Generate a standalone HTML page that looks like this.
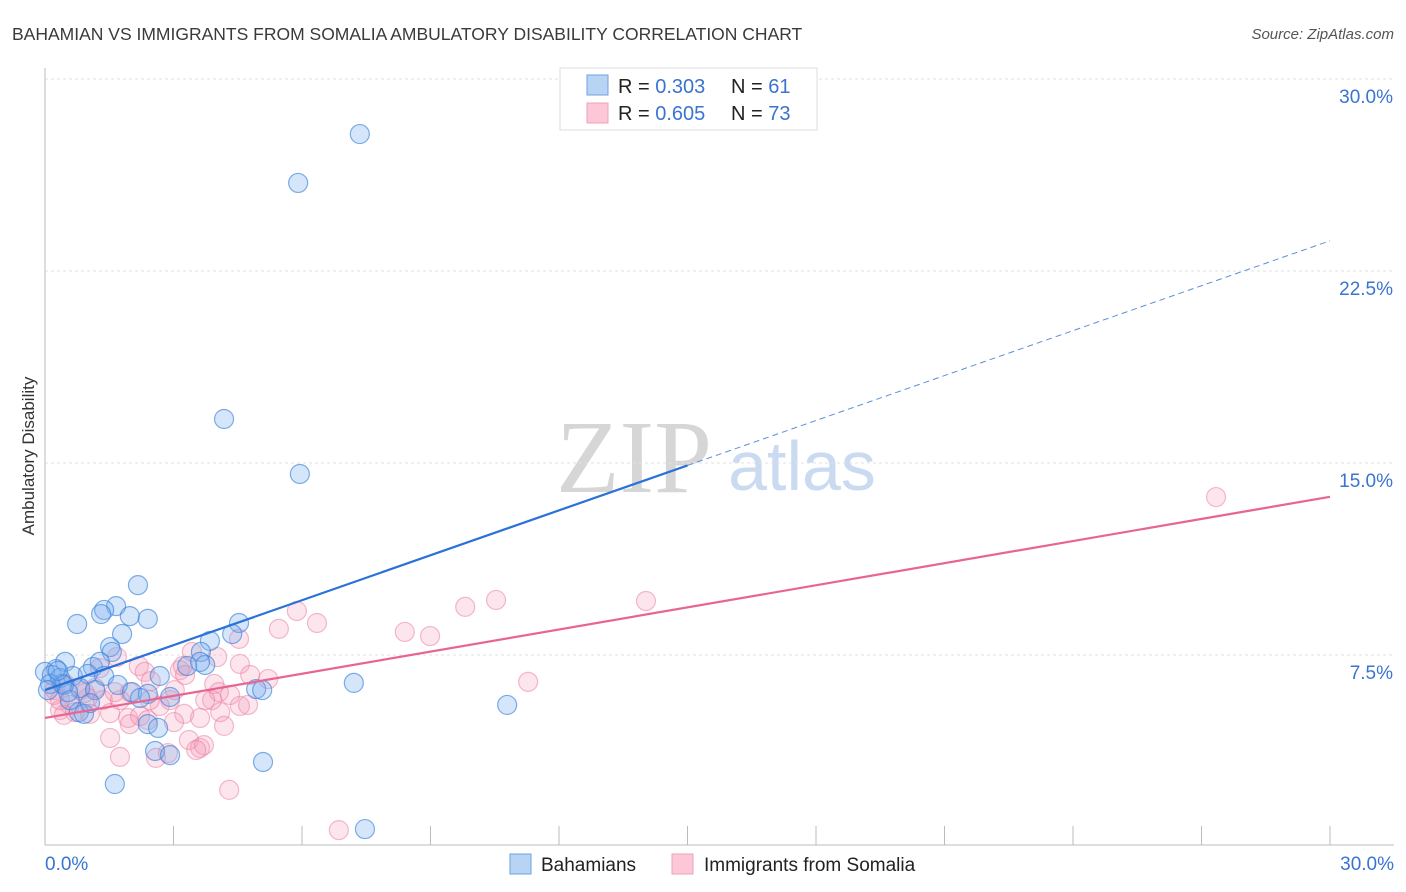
<!DOCTYPE html>
<html><head><meta charset="utf-8"><style>
body{margin:0;background:#fff;font-family:"Liberation Sans",sans-serif;}
svg{display:block}
</style></head><body>
<svg id="chart" width="1406" height="892" xmlns="http://www.w3.org/2000/svg">
<text x="12" y="40" font-size="17.5" fill="#3a3a3a">BAHAMIAN VS IMMIGRANTS FROM SOMALIA AMBULATORY DISABILITY CORRELATION CHART</text>
<text x="1394" y="39" font-size="15" fill="#555" text-anchor="end" font-style="italic">Source: ZipAtlas.com</text>
<text x="34" y="456" font-size="17" fill="#333" text-anchor="middle" transform="rotate(-90 34 456)">Ambulatory Disability</text>
<g>
<text x="634" y="492" font-size="104" fill="#d6d6d6" font-family="Liberation Serif,serif" text-anchor="middle">ZIP</text>
<text x="802" y="490" font-size="70" fill="#cadbf1" text-anchor="middle">atlas</text>
</g>
<g id="grid"></g>
<g id="axes"></g>
<g id="pts"></g>
<g id="lines"></g>
<g>
<rect x="560" y="68" width="257" height="62" fill="#fff" stroke="#ddd"/>
<rect x="587" y="75" width="21" height="20" fill="#b8d4f4" stroke="#6fa0e0"/>
<rect x="587" y="103" width="21" height="20" fill="#fcc8d8" stroke="#f0a0b8"/>
<text x="618" y="93" font-size="20" fill="#222">R = <tspan fill="#3a74d0">0.303</tspan></text>
<text x="731" y="93" font-size="20" fill="#222">N = <tspan fill="#3a74d0"> 61</tspan></text>
<text x="618" y="120" font-size="20" fill="#222">R = <tspan fill="#3a74d0">0.605</tspan></text>
<text x="731" y="120" font-size="20" fill="#222">N = <tspan fill="#3a74d0">73</tspan></text>
</g>
<g>
<rect x="510" y="854" width="21" height="20" fill="#b8d4f4" stroke="#6fa0e0"/>
<text x="541" y="871" font-size="19" fill="#222">Bahamians</text>
<text x="704" y="871" font-size="19" fill="#222">Immigrants from Somalia</text>
<rect x="672" y="854" width="21" height="20" fill="#fcc8d8" stroke="#f0a0b8"/>
</g>
</svg>
<script>
const yTicks=[7.5,15,22.5,30];
const yTickLabels=["7.5%","15.0%","22.5%","30.0%"];
const xEndLabels=["0.0%","30.0%"];
const blueX=[7.35,5.91,4.18,5.95,2.17,1.66,1.38,1.31,1.98,2.40,0.75,1.80,4.53,4.37,3.85,1.52,1.56,3.64,0.47,1.12,1.28,3.74,3.32,0.26,0.0,0.16,0.35,0.65,1.00,2.68,1.38,1.70,2.03,2.40,0.40,0.82,0.12,1.17,2.92,4.93,7.21,5.07,10.79,0.79,0.91,2.40,2.64,2.57,2.92,5.09,1.63,7.47,0.44,0.58,1.05,0.30,0.07,2.22,3.62,0.54];
const blueY=[27.85,25.94,16.72,14.57,10.23,9.41,9.26,9.10,9.02,8.91,8.71,8.32,8.75,8.32,8.05,7.81,7.62,7.62,7.23,7.03,7.23,7.11,7.07,6.95,6.84,6.72,6.60,6.68,6.76,6.68,6.68,6.33,6.05,5.98,6.37,6.21,6.37,6.13,5.86,6.17,6.41,6.13,5.55,5.27,5.20,4.80,4.65,3.75,3.59,3.32,2.46,0.70,6.33,5.74,5.62,6.88,6.13,5.82,7.23,6.05];
const pinkX=[27.34,14.03,10.53,9.81,5.88,6.35,5.46,8.40,8.99,4.53,11.28,3.43,4.02,1.68,2.19,2.33,3.15,3.22,4.55,5.21,3.95,4.06,2.47,1.98,0.21,0.58,1.00,1.35,0.35,0.70,1.52,1.94,2.22,2.68,3.25,3.01,3.62,4.09,1.98,2.40,4.55,4.74,4.18,1.52,3.36,3.62,3.71,3.53,1.75,2.59,2.87,4.30,6.86,0.23,0.47,0.82,1.17,1.28,2.45,4.79,3.90,1.75,2.92,0.44,0.93,3.03,3.27,4.32,1.05,3.74,1.63,0.35];
const pinkY=[13.67,9.61,9.65,9.38,9.22,8.75,8.52,8.40,8.24,8.13,6.45,7.62,7.42,7.42,7.07,6.84,6.91,7.07,7.15,6.56,6.37,6.05,6.48,6.05,5.94,5.55,5.82,5.74,5.35,5.27,5.23,5.04,5.12,5.51,5.20,4.88,5.04,5.27,4.80,4.96,5.51,5.55,4.73,4.26,4.18,3.87,3.98,3.79,3.52,3.48,3.67,2.23,0.66,6.13,6.37,6.13,6.21,6.99,5.74,6.72,5.74,5.74,5.74,5.16,6.02,6.13,6.72,5.94,5.20,5.74,6.05,5.74];
const blueFit=[6.13,0.585];
const pinkFit=[5.04,0.288];
const sx=v=>45+v/30*1285;
const sy=v=>847-v/30*768;
const NS="http://www.w3.org/2000/svg";
function mk(t,a,p){const e=document.createElementNS(NS,t);for(const k in a)e.setAttribute(k,a[k]);p.appendChild(e);return e;}
const grid=document.getElementById('grid'),axes=document.getElementById('axes'),pts=document.getElementById('pts'),lines=document.getElementById('lines');
yTicks.forEach((v,i)=>{
 const l=mk('line',{x1:45,x2:1394,y1:sy(v),y2:sy(v),stroke:'#e2e2e2','stroke-dasharray':'3,3','stroke-width':1},grid);
 
 
 const t=mk('text',{x:1393,y:sy(v)+24,'font-size':19,fill:'#3a74d0','text-anchor':'end'},axes);
 t.textContent=yTickLabels[i];
 
 
});
let a=mk('line',{x1:45,x2:45,y1:68,y2:845,stroke:'#bbb'},axes);


a=mk('line',{x1:45,x2:1394,y1:845,y2:845,stroke:'#bbb'},axes);


for(let i=1;i<=10;i++){
 const x=sx(i*3);
 const t=mk('line',{x1:x,x2:x,y1:826,y2:845,stroke:'#bbb'},axes);
 
 
}
[[0,'start',45],[30,'end',1394]].forEach((d,i)=>{
 const t=mk('text',{x:d[2],y:870,'font-size':19,fill:'#3a74d0','text-anchor':d[1]},axes);
 t.textContent=xEndLabels[i];
 
 
});
pinkX.forEach((x,i)=>{
 const c=mk('circle',{cx:sx(x),cy:sy(pinkY[i]),r:9.5,fill:'rgba(244,150,180,0.25)',stroke:'rgba(236,120,160,0.5)','stroke-width':1.2},pts);
 
 
});
blueX.forEach((x,i)=>{
 const c=mk('circle',{cx:sx(x),cy:sy(blueY[i]),r:9.5,fill:'rgba(120,172,238,0.3)',stroke:'rgba(60,130,220,0.65)','stroke-width':1.2},pts);
 
 
});
let L=mk('line',{x1:sx(0),y1:sy(blueFit[0]),x2:sx(15),y2:sy(blueFit[0]+blueFit[1]*15),stroke:'#2a72d8','stroke-width':2.2},lines);


L=mk('line',{x1:sx(15),y1:sy(blueFit[0]+blueFit[1]*15),x2:sx(30),y2:sy(blueFit[0]+blueFit[1]*30),stroke:'#5b8fd8','stroke-width':1,'stroke-dasharray':'6,4'},lines);


L=mk('line',{x1:sx(0),y1:sy(pinkFit[0]),x2:sx(30),y2:sy(pinkFit[0]+pinkFit[1]*30),stroke:'#e86592','stroke-width':2.2},lines);


</script>
</body></html>
